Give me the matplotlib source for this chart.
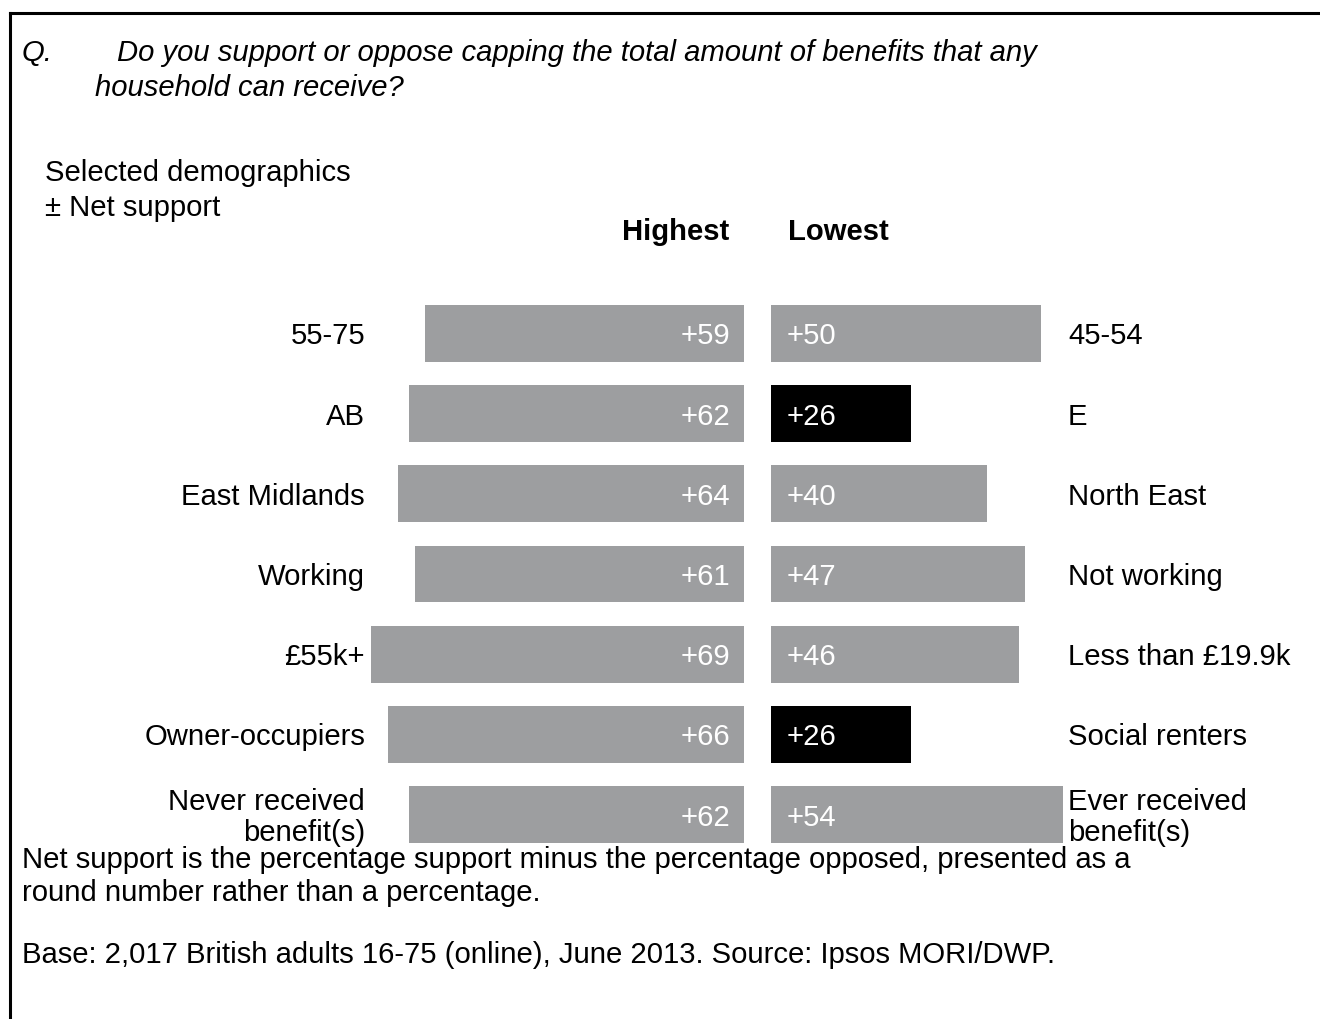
import matplotlib.pyplot as plt

plt.rcParams['font.family'] = ['Liberation Sans', 'DejaVu Sans']

# highest-scoring groups (left) and lowest-scoring groups (right)
high_labels = ['55-75', 'AB', 'East Midlands', 'Working', '£55k+',
               'Owner-occupiers', 'Never received\nbenefit(s)']
high_values = [59, 62, 64, 61, 69, 66, 62]
low_labels = ['45-54', 'E', 'North East', 'Not working', 'Less than £19.9k',
              'Social renters', 'Ever received\nbenefit(s)']
low_values = [50, 26, 40, 47, 46, 26, 54]
low_highlight = [False, True, False, False, False, True, False]

W, H = 1320, 1019
GREY = '#9d9ea0'
FS = 21.1
DY = 3  # text centre offset in pixels


def px(x, y):
    return x / W, 1 - (y + DY) / H


fig = plt.figure(figsize=(W / 100, H / 100), dpi=100)

# axes layout in pixels
row_top, row_bot = 293.4, 854.6
bottom = (H - row_bot) / H
height = (row_bot - row_top) / H
span = 75  # units shown in each axes, 5.4 px per unit
ax_l = fig.add_axes([(744 - span * 5.4) / W, bottom, span * 5.4 / W, height])
ax_r = fig.add_axes([771 / W, bottom, span * 5.4 / W, height])

rows = list(range(len(high_values)))
ax_l.barh(rows, high_values, height=0.71, color=GREY)
ax_r.barh(rows, low_values, height=0.71,
          color=['black' if h else GREY for h in low_highlight])

for ax in (ax_l, ax_r):
    ax.set_ylim(len(rows) - 0.5, -0.5)
    ax.axis('off')
ax_l.set_xlim(span, 0)
ax_r.set_xlim(0, span)

for i, v in enumerate(high_values):
    ax_l.annotate('+%d' % v, (0, i), xytext=(-14, -DY), textcoords='offset pixels',
                  ha='right', va='center', color='white', fontsize=FS)
    ax_l.annotate(high_labels[i], (high_values[i], i), xycoords='data',
                  xytext=(365, -DY), textcoords=('figure pixels', 'offset pixels'),
                  ha='right', va='center', fontsize=FS, linespacing=1.1)
for i, v in enumerate(low_values):
    ax_r.annotate('+%d' % v, (0, i), xytext=(16, -DY), textcoords='offset pixels',
                  ha='left', va='center', color='white', fontsize=FS)
    ax_r.annotate(low_labels[i], (low_values[i], i), xycoords='data',
                  xytext=(1068, -DY), textcoords=('figure pixels', 'offset pixels'),
                  ha='left', va='center', fontsize=FS, linespacing=1.1)

# header
fig.text(*px(22, 50), 'Q.', fontsize=FS, style='italic', va='center')
fig.text(*px(117, 50), 'Do you support or oppose capping the total amount of benefits that any',
         fontsize=FS, style='italic', va='center')
fig.text(*px(95, 85), 'household can receive?', fontsize=FS, style='italic', va='center')
fig.text(*px(45, 170), 'Selected demographics', fontsize=FS, va='center')
fig.text(*px(45, 205), '± Net support', fontsize=FS, va='center')
fig.text(*px(676, 229), 'Highest', fontsize=FS, weight='bold', ha='center', va='center')
fig.text(*px(838, 229), 'Lowest', fontsize=FS, weight='bold', ha='center', va='center')

# footer
fig.text(*px(22, 857), 'Net support is the percentage support minus the percentage opposed, presented as a',
         fontsize=FS, va='center')
fig.text(*px(22, 890), 'round number rather than a percentage.', fontsize=FS, va='center')
fig.text(*px(22, 952), 'Base: 2,017 British adults 16-75 (online), June 2013. Source: Ipsos MORI/DWP.',
         fontsize=FS, va='center')

# frame (top and left edges)
fig.add_artist(plt.Line2D([10 / W, 1], [1 - 12.5 / H] * 2, color='black', lw=2.2))
fig.add_artist(plt.Line2D([10 / W] * 2, [0, 1 - 12.5 / H], color='black', lw=2.2))

fig.savefig('out.png', dpi=100)
